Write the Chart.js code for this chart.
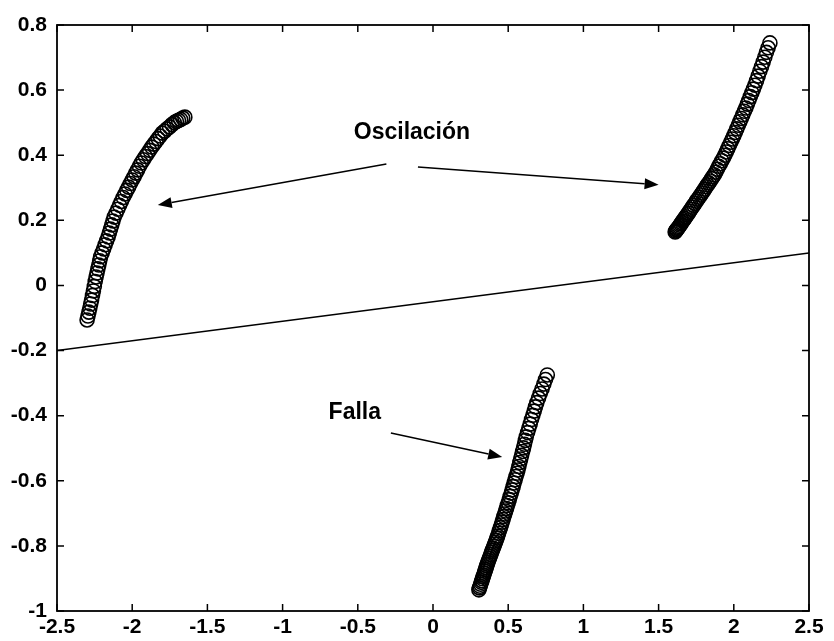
<!DOCTYPE html>
<html><head><meta charset="utf-8">
<script src="https://cdn.jsdelivr.net/npm/chart.js@4"></script>
<style>html,body{margin:0;padding:0;background:#fff;} canvas{display:block;}</style>
</head><body>
<canvas id="c" width="834" height="641"></canvas>
<script>
// ---- tick values / labels ----
const xTicks = [-2.5,-2,-1.5,-1,-0.5,0,0.5,1,1.5,2,2.5];
const xTickLabels = ["-2.5","-2","-1.5","-1","-0.5","0","0.5","1","1.5","2","2.5"];
const yTicks = [-1,-0.8,-0.6,-0.4,-0.2,0,0.2,0.4,0.6,0.8];
const yTickLabels = ["-1","-0.8","-0.6","-0.4","-0.2","0","0.2","0.4","0.6","0.8"];

// ---- series 1: oscillation, left cluster ----
const osc1X = [-2.300,-2.294,-2.288,-2.282,-2.276,-2.270,-2.264,-2.258,-2.252,-2.246,
 -2.240,-2.234,-2.228,-2.222,-2.216,-2.210,-2.200,-2.190,-2.180,-2.170,
 -2.160,-2.152,-2.144,-2.136,-2.128,-2.120,-2.108,-2.096,-2.084,-2.072,
 -2.060,-2.048,-2.036,-2.024,-2.012,-2.000,-1.988,-1.976,-1.964,-1.952,
 -1.940,-1.926,-1.912,-1.898,-1.884,-1.870,-1.856,-1.842,-1.828,-1.814,
 -1.800,-1.784,-1.768,-1.752,-1.736,-1.720,-1.706,-1.692,-1.678,-1.664,-1.650];
const osc1Y = [-0.106,-0.094,-0.082,-0.070,-0.057,-0.045,-0.031,-0.017,-0.003,0.012,
 0.026,0.038,0.051,0.063,0.076,0.088,0.100,0.112,0.125,0.137,
 0.149,0.161,0.173,0.186,0.198,0.210,0.222,0.234,0.246,0.258,
 0.270,0.281,0.292,0.302,0.313,0.324,0.334,0.345,0.355,0.366,
 0.376,0.386,0.396,0.405,0.415,0.425,0.434,0.442,0.451,0.459,
 0.468,0.474,0.481,0.487,0.494,0.500,0.504,0.507,0.510,0.514,0.517];

// ---- series 2: oscillation, right cluster ----
const osc2X = [1.610,1.614,1.618,1.622,1.627,1.632,1.637,1.642,1.648,1.654,1.660,1.667,1.674,1.681,1.690,
 1.698,1.706,1.715,1.724,1.733,1.742,1.751,1.760,1.770,1.780,
 1.789,1.798,1.807,1.816,1.825,1.834,1.843,1.852,1.861,1.870,
 1.880,1.890,1.900,1.910,1.920,1.930,1.940,
 1.950,1.960,1.970,1.980,1.990,2.000,2.010,
 2.020,2.030,2.040,2.050,2.060,2.070,2.080,
 2.090,2.100,2.110,2.120,2.130,2.140,
 2.151,2.162,2.173,2.184,2.195,
 2.206,2.217,2.228,2.240];
const osc2Y = [0.164,0.167,0.170,0.172,0.175,0.178,0.181,0.185,0.189,0.193,0.197,0.202,0.206,0.211,0.217,
 0.222,0.228,0.234,0.240,0.246,0.252,0.259,0.265,0.271,0.278,
 0.284,0.290,0.296,0.303,0.309,0.315,0.321,0.328,0.334,0.340,
 0.348,0.357,0.366,0.374,0.383,0.391,0.400,
 0.410,0.420,0.430,0.440,0.450,0.460,0.470,
 0.481,0.492,0.503,0.513,0.524,0.535,0.545,
 0.557,0.568,0.580,0.592,0.603,0.615,
 0.629,0.643,0.658,0.672,0.686,
 0.701,0.716,0.730,0.745];

// ---- series 3: fault cluster ----
const faultX = [0.305,0.309,0.313,0.317,0.321,0.325,0.329,0.333,0.337,0.341,0.345,0.349,0.353,0.357,0.361,0.365,
 0.370,0.375,0.380,0.385,0.390,0.395,0.400,0.405,0.410,0.415,0.420,0.425,0.430,
 0.436,0.442,0.448,0.454,0.460,0.466,0.471,0.477,0.483,0.489,0.494,0.500,
 0.507,0.513,0.520,0.526,0.533,0.539,0.546,0.552,0.559,0.565,
 0.571,0.577,0.583,0.589,0.596,0.602,0.608,0.614,0.620,
 0.629,0.637,0.646,0.655,0.664,0.673,0.681,0.690,
 0.702,0.713,0.725,0.737,0.748,0.760];
const faultY = [-0.935,-0.929,-0.924,-0.918,-0.912,-0.907,-0.901,-0.895,-0.890,-0.884,-0.878,-0.873,-0.867,-0.861,-0.856,-0.850,
 -0.844,-0.838,-0.832,-0.826,-0.819,-0.813,-0.807,-0.801,-0.795,-0.789,-0.783,-0.776,-0.770,
 -0.761,-0.753,-0.744,-0.736,-0.727,-0.719,-0.710,-0.702,-0.693,-0.685,-0.676,-0.668,
 -0.658,-0.648,-0.638,-0.628,-0.618,-0.607,-0.597,-0.587,-0.577,-0.567,
 -0.556,-0.544,-0.533,-0.522,-0.510,-0.499,-0.488,-0.476,-0.465,
 -0.452,-0.439,-0.426,-0.412,-0.399,-0.386,-0.373,-0.360,
 -0.346,-0.332,-0.318,-0.303,-0.289,-0.275];

// ---- separating line ----
const lineX = [-2.5, 2.5];
const lineY = [-0.2, 0.1];

// ---- annotations ----
const noteTexts = ["Oscilación", "Falla"];
const noteX = [-0.14, -0.52];
const noteY = [0.468, -0.39];
const arrowFromX = [-0.31, -0.10, -0.28];
const arrowFromY = [0.373, 0.364, -0.453];
const arrowToX = [-1.83, 1.50, 0.46];
const arrowToY = [0.247, 0.309, -0.527];

const pts = (xs, ys) => xs.map((x, i) => ({x: x, y: ys[i]}));
const FONT = '"Liberation Sans", Arial, Helvetica, sans-serif';

const markerStyle = {
  showLine: false, pointStyle: 'circle', pointRadius: 7,
  pointBorderColor: '#000', pointBorderWidth: 1.6,
  pointBackgroundColor: 'rgba(0,0,0,0)', pointHoverRadius: 7
};

const whiteBg = {
  id: 'whiteBg',
  beforeDraw(chart) {
    const c = chart.ctx; c.save(); c.fillStyle = '#fff';
    c.fillRect(0, 0, chart.width, chart.height); c.restore();
  }
};

const boxAndTicks = {
  id: 'boxAndTicks',
  afterDatasetsDraw(chart) {
    const c = chart.ctx, a = chart.chartArea, sx = chart.scales.x, sy = chart.scales.y;
    const L = 7;
    c.save();
    c.strokeStyle = '#000'; c.lineWidth = 1.8;
    c.strokeRect(a.left, a.top, a.right - a.left, a.bottom - a.top);
    c.lineWidth = 1.5;
    c.beginPath();
    xTicks.forEach(v => {
      const p = sx.getPixelForValue(v);
      c.moveTo(p, a.bottom); c.lineTo(p, a.bottom - L);
      c.moveTo(p, a.top); c.lineTo(p, a.top + L);
    });
    yTicks.forEach(v => {
      const p = sy.getPixelForValue(v);
      c.moveTo(a.left, p); c.lineTo(a.left + L, p);
      c.moveTo(a.right, p); c.lineTo(a.right - L, p);
    });
    c.stroke();
    c.restore();
  }
};

const notes = {
  id: 'notes',
  afterDatasetsDraw(chart) {
    const c = chart.ctx, sx = chart.scales.x, sy = chart.scales.y;
    c.save();
    c.fillStyle = '#000'; c.strokeStyle = '#000';
    c.font = 'bold 23px ' + FONT;
    c.textAlign = 'center'; c.textBaseline = 'middle';
    noteTexts.forEach((t, i) => c.fillText(t, sx.getPixelForValue(noteX[i]), sy.getPixelForValue(noteY[i])));
    arrowFromX.forEach((_, i) => {
      const x0 = sx.getPixelForValue(arrowFromX[i]), y0 = sy.getPixelForValue(arrowFromY[i]);
      const x1 = sx.getPixelForValue(arrowToX[i]), y1 = sy.getPixelForValue(arrowToY[i]);
      const ang = Math.atan2(y1 - y0, x1 - x0);
      const hl = 14, hw = 5.5;
      const bx = x1 - hl * Math.cos(ang), by = y1 - hl * Math.sin(ang);
      c.lineWidth = 1.5;
      c.beginPath(); c.moveTo(x0, y0); c.lineTo(bx, by); c.stroke();
      c.beginPath();
      c.moveTo(x1, y1);
      c.lineTo(bx + hw * Math.sin(ang), by - hw * Math.cos(ang));
      c.lineTo(bx - hw * Math.sin(ang), by + hw * Math.cos(ang));
      c.closePath(); c.fill();
    });
    c.restore();
  }
};

new Chart(document.getElementById('c'), {
  type: 'scatter',
  data: {
    datasets: [
      Object.assign({label: 'Oscilación 1', data: pts(osc1X, osc1Y)}, markerStyle),
      Object.assign({label: 'Oscilación 2', data: pts(osc2X, osc2Y)}, markerStyle),
      Object.assign({label: 'Falla', data: pts(faultX, faultY)}, markerStyle),
      {label: 'Frontera', data: pts(lineX, lineY), showLine: true, borderColor: '#000',
       borderWidth: 1.5, pointRadius: 0, pointHoverRadius: 0, fill: false}
    ]
  },
  options: {
    responsive: false, animation: false, devicePixelRatio: 1,
    layout: {padding: {top: 25, right: 25, left: 0, bottom: 0}},
    plugins: {legend: {display: false}, tooltip: {enabled: false}},
    events: [],
    scales: {
      x: {
        type: 'linear', min: -2.5, max: 2.5,
        afterBuildTicks(s) { s.ticks = xTicks.map(v => ({value: v})); },
        afterFit(s) { s.height = 30; },
        grid: {display: false, drawTicks: false},
        border: {display: false},
        ticks: {
          color: '#000', padding: 4, maxRotation: 0, autoSkip: false,
          font: {family: FONT, size: 21, weight: 'bold'},
          callback: (v, i) => xTickLabels[i]
        }
      },
      y: {
        type: 'linear', min: -1, max: 0.8,
        afterBuildTicks(s) { s.ticks = yTicks.map(v => ({value: v})); },
        afterFit(s) { s.width = 57; },
        grid: {display: false, drawTicks: false},
        border: {display: false},
        ticks: {
          color: '#000', padding: 10, autoSkip: false,
          font: {family: FONT, size: 21, weight: 'bold'},
          callback: (v, i) => yTickLabels[i]
        }
      }
    }
  },
  plugins: [whiteBg, boxAndTicks, notes]
});
</script>
</body></html>
